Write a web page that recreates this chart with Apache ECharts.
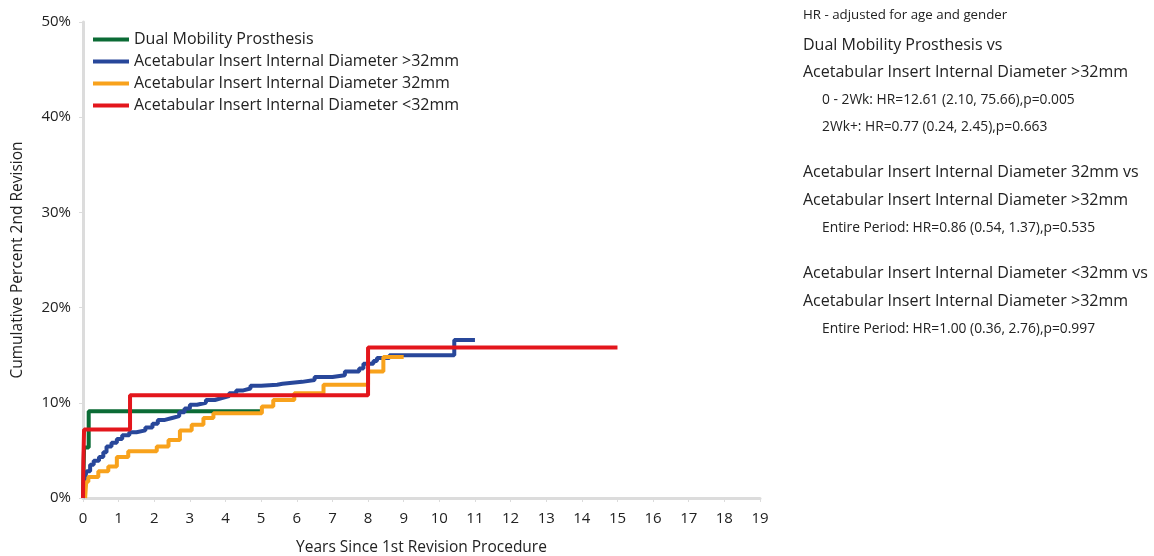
<!DOCTYPE html>
<html>
<head>
<meta charset="utf-8">
<script src="https://cdn.jsdelivr.net/npm/echarts@6/dist/echarts.min.js"></script>
<style>
html,body{margin:0;padding:0;background:#fff;}
#chart{width:1154px;height:556px;}
</style>
</head>
<body>
<div id="chart"></div>
<script>
// Data: [years, cumulative percent] at each event (step functions)
const dualMobility = [[0,0],[0.03,5.3],[0.16,9.1],[5.02,9.1]];
const diamOver32 = [[0,0],[0.02,1.0],[0.05,2.0],[0.1,2.8],[0.2,3.5],[0.3,3.9],[0.45,4.3],[0.57,4.8],[0.66,5.4],[0.8,5.8],[0.95,6.2],[1.1,6.6],[1.3,6.9],[1.5,7.1],[1.75,7.4],[1.95,7.8],[2.1,8.2],[2.3,8.4],[2.5,8.6],[2.7,9.0],[2.85,9.4],[3.0,9.8],[3.2,10.0],[3.45,10.3],[3.7,10.5],[3.9,10.7],[4.1,11.0],[4.3,11.3],[4.5,11.5],[4.7,11.8],[5.0,11.9],[5.45,12.0],[5.6,12.2],[6.15,12.4],[6.5,12.7],[7.0,12.9],[7.35,13.3],[7.75,13.6],[7.87,14.1],[8.15,14.4],[8.25,14.7],[8.6,15.0],[10.42,16.6],[11.0,16.6]];
const diam32 = [[0.06,0],[0.09,1.7],[0.15,2.2],[0.43,2.8],[0.71,3.3],[0.95,4.3],[1.27,4.9],[2.07,5.4],[2.4,6.1],[2.72,7.1],[3.05,7.7],[3.38,8.4],[3.66,8.9],[5.02,9.6],[5.34,10.3],[5.93,11.0],[6.75,11.9],[8.0,13.3],[8.43,14.8],[9.0,14.8]];
const diamUnder32 = [[0,0],[0.01,3.8],[0.03,7.2],[1.32,10.8],[8.0,15.8],[15.0,15.8]];

const seriesNames = ['Dual Mobility Prosthesis','Acetabular Insert Internal Diameter >32mm','Acetabular Insert Internal Diameter 32mm','Acetabular Insert Internal Diameter <32mm'];
const seriesData = [dualMobility, diamOver32, diam32, diamUnder32];
const seriesColors = ['#0B6B35','#28479A','#F8A21C','#E3161C'];
const xTicks = {min:0, max:19, interval:1};
const yTicks = {min:0, max:50, interval:10};

const hrLines = [
  {t:'HR - adjusted for age and gender', x:803, y:15, s:13.3},
  {t:'Dual Mobility Prosthesis vs', x:803, y:45, s:16},
  {t:'Acetabular Insert Internal Diameter >32mm', x:803, y:72, s:16},
  {t:'0 - 2Wk: HR=12.61 (2.10, 75.66),p=0.005', x:822, y:100, s:13.8},
  {t:'2Wk+: HR=0.77 (0.24, 2.45),p=0.663', x:822, y:127, s:13.8},
  {t:'Acetabular Insert Internal Diameter 32mm vs', x:803, y:172, s:16},
  {t:'Acetabular Insert Internal Diameter >32mm', x:803, y:200, s:16},
  {t:'Entire Period: HR=0.86 (0.54, 1.37),p=0.535', x:822, y:228, s:13.8},
  {t:'Acetabular Insert Internal Diameter <32mm vs', x:803, y:273, s:16},
  {t:'Acetabular Insert Internal Diameter >32mm', x:803, y:301, s:16},
  {t:'Entire Period: HR=1.00 (0.36, 2.76),p=0.997', x:822, y:329, s:13.8}
];

const FONT = '"Open Sans", "Noto Sans", sans-serif';
const chart = echarts.init(document.getElementById('chart'), null, {renderer:'canvas'});
chart.setOption({
  animation:false,
  backgroundColor:'#fff',
  textStyle:{fontFamily:FONT},
  grid:{left:83, right:394, top:22, bottom:58, containLabel:false, outerBoundsMode:'none'},
  legend:{
    orient:'vertical', left:88, top:26,
    itemWidth:36, itemHeight:4, itemGap:5, icon:'rect',
    textStyle:{fontSize:16, color:'#222', fontFamily:FONT, lineHeight:17},
    data:seriesNames
  },
  xAxis:{
    type:'value', min:xTicks.min, max:xTicks.max, interval:xTicks.interval,
    name:'Years Since 1st Revision Procedure', nameLocation:'middle', nameGap:42,
    nameTextStyle:{fontSize:15.5, color:'#222', fontFamily:FONT},
    axisLine:{show:true, lineStyle:{color:'#dcdcdc', width:3}},
    axisTick:{show:true, length:4, lineStyle:{color:'#dcdcdc'}},
    axisLabel:{fontSize:15, color:'#222', margin:13, fontFamily:FONT},
    splitLine:{show:false}
  },
  yAxis:{
    type:'value', min:yTicks.min, max:yTicks.max, interval:yTicks.interval,
    name:'Cumulative Percent 2nd Revision', nameLocation:'middle', nameGap:57, nameRotate:90,
    nameTextStyle:{fontSize:15.5, color:'#222', fontFamily:FONT},
    axisLine:{show:true, lineStyle:{color:'#dcdcdc', width:3}},
    axisTick:{show:true, length:4, lineStyle:{color:'#dcdcdc'}},
    axisLabel:{fontSize:15, color:'#222', margin:12, formatter:'{value}%', fontFamily:FONT},
    splitLine:{show:false}
  },
  series: seriesNames.map((n,i)=>({
    name:n, type:'line', step:'end', data:seriesData[i], showSymbol:false, symbol:'none',
    lineStyle:{color:seriesColors[i], width:4}, itemStyle:{color:seriesColors[i]}, z:2+ (i===3?2:0)
  })),
  graphic: hrLines.map(l=>({
    type:'text', x:l.x, y:l.y,
    style:{text:l.t, fontSize:l.s, fill:'#222', fontFamily:FONT, verticalAlign:'middle', align:'left'}
  }))
});
</script>
</body>
</html>
